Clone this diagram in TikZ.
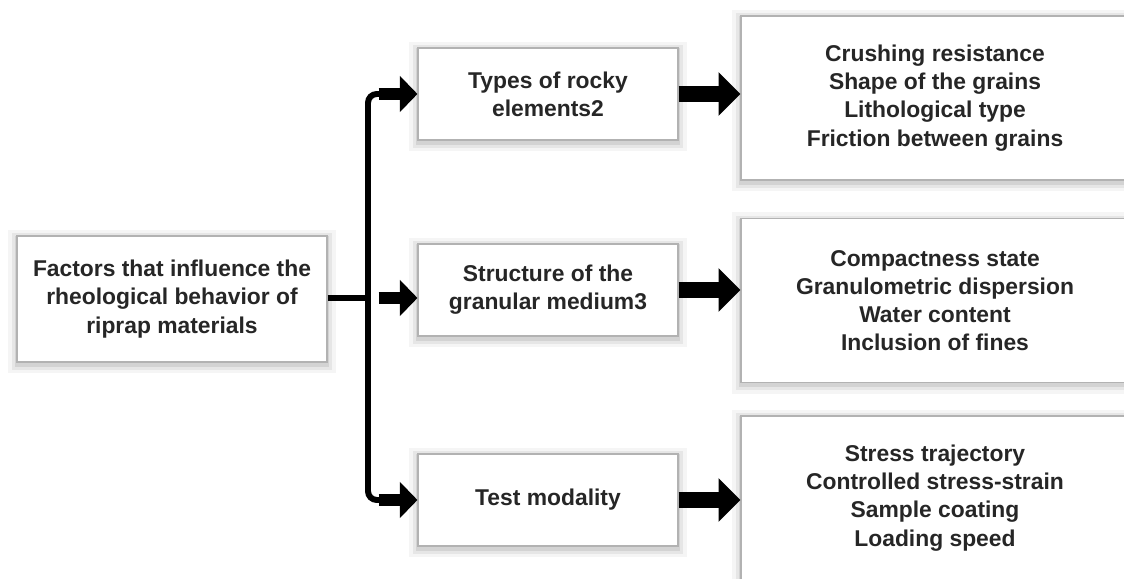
\documentclass[tikz,border=0pt]{standalone}
\usepackage{fontspec}
\setmainfont{Liberation Sans}
\usetikzlibrary{arrows.meta, positioning}

\tikzset{
  box/.style={draw=black!30, line width=0.6pt, fill=white, align=center,
    font=\bfseries\fontsize{13}{16}\selectfont, text=black!85, inner sep=0pt,
    preaction={draw=black, opacity=0.04, line width=10pt, transform canvas={yshift=-1.5pt}},
    preaction={draw=black, opacity=0.06, line width=6pt, transform canvas={yshift=-1.5pt}},
    preaction={draw=black, opacity=0.08, line width=2.5pt, transform canvas={yshift=-1.5pt}}},
  mainbox/.style={box, minimum width=6.2cm, minimum height=2.52cm},
  factorbox/.style={box, minimum width=5.2cm, minimum height=1.84cm},
  detailbox/.style={box, minimum width=7.76cm, minimum height=3.28cm},
  branch/.style={line width=3.4pt, rounded corners=5pt},
  smallarrow/.style={-{Triangle[length=10pt, width=20pt]}, line width=7pt},
  bigarrow/.style={-{Triangle[length=12.5pt, width=24pt]}, line width=9pt}
}

\begin{document}
\begin{tikzpicture}
  \useasboundingbox (0,0) rectangle (22.48,11.58);
  \fill[white] (0,0) rectangle (22.48,11.58);

  % Main factor
  \node[mainbox] (factors) at (3.44,5.6)
    {Factors that influence the\\rheological behavior of\\riprap materials};

  % Groups of factors
  \node[factorbox] (types) at (10.96,9.7) {Types of rocky\\elements2};
  \node[factorbox] (structure) at (10.96,5.78) {Structure of the\\granular medium3};
  \node[factorbox] (modality) at (10.96,1.58) {Test modality};

  % Details
  \node[detailbox] (rockprops) at (18.7,9.62)
    {Crushing resistance\\Shape of the grains\\Lithological type\\Friction between grains};
  \node[detailbox] (mediumprops) at (18.7,5.57)
    {Compactness state\\Granulometric dispersion\\Water content\\Inclusion of fines};
  \node[detailbox] (testprops) at (18.7,1.62)
    {Stress trajectory\\Controlled stress-strain\\Sample coating\\Loading speed};

  % Branching line
  \coordinate (junction) at (7.36,5.62);
  \coordinate (top) at (junction |- types.west);
  \coordinate (bottom) at (junction |- modality.west);
  \draw[line width=3.4pt] (factors.east |- junction) -- (junction);
  \draw[branch] ([xshift=10pt]top) -- (top) -- (bottom) -- ([xshift=10pt]bottom);

  % Arrows
  \foreach \from/\to in {top/types, junction/structure, bottom/modality} {
    \draw[smallarrow] ([xshift=6pt]\from) -- (\from -| \to.west);
  }
  \foreach \from/\to in {types/rockprops, structure/mediumprops, modality/testprops} {
    \draw[bigarrow] (\from.east) -- (\from.east -| \to.west);
  }
\end{tikzpicture}
\end{document}
